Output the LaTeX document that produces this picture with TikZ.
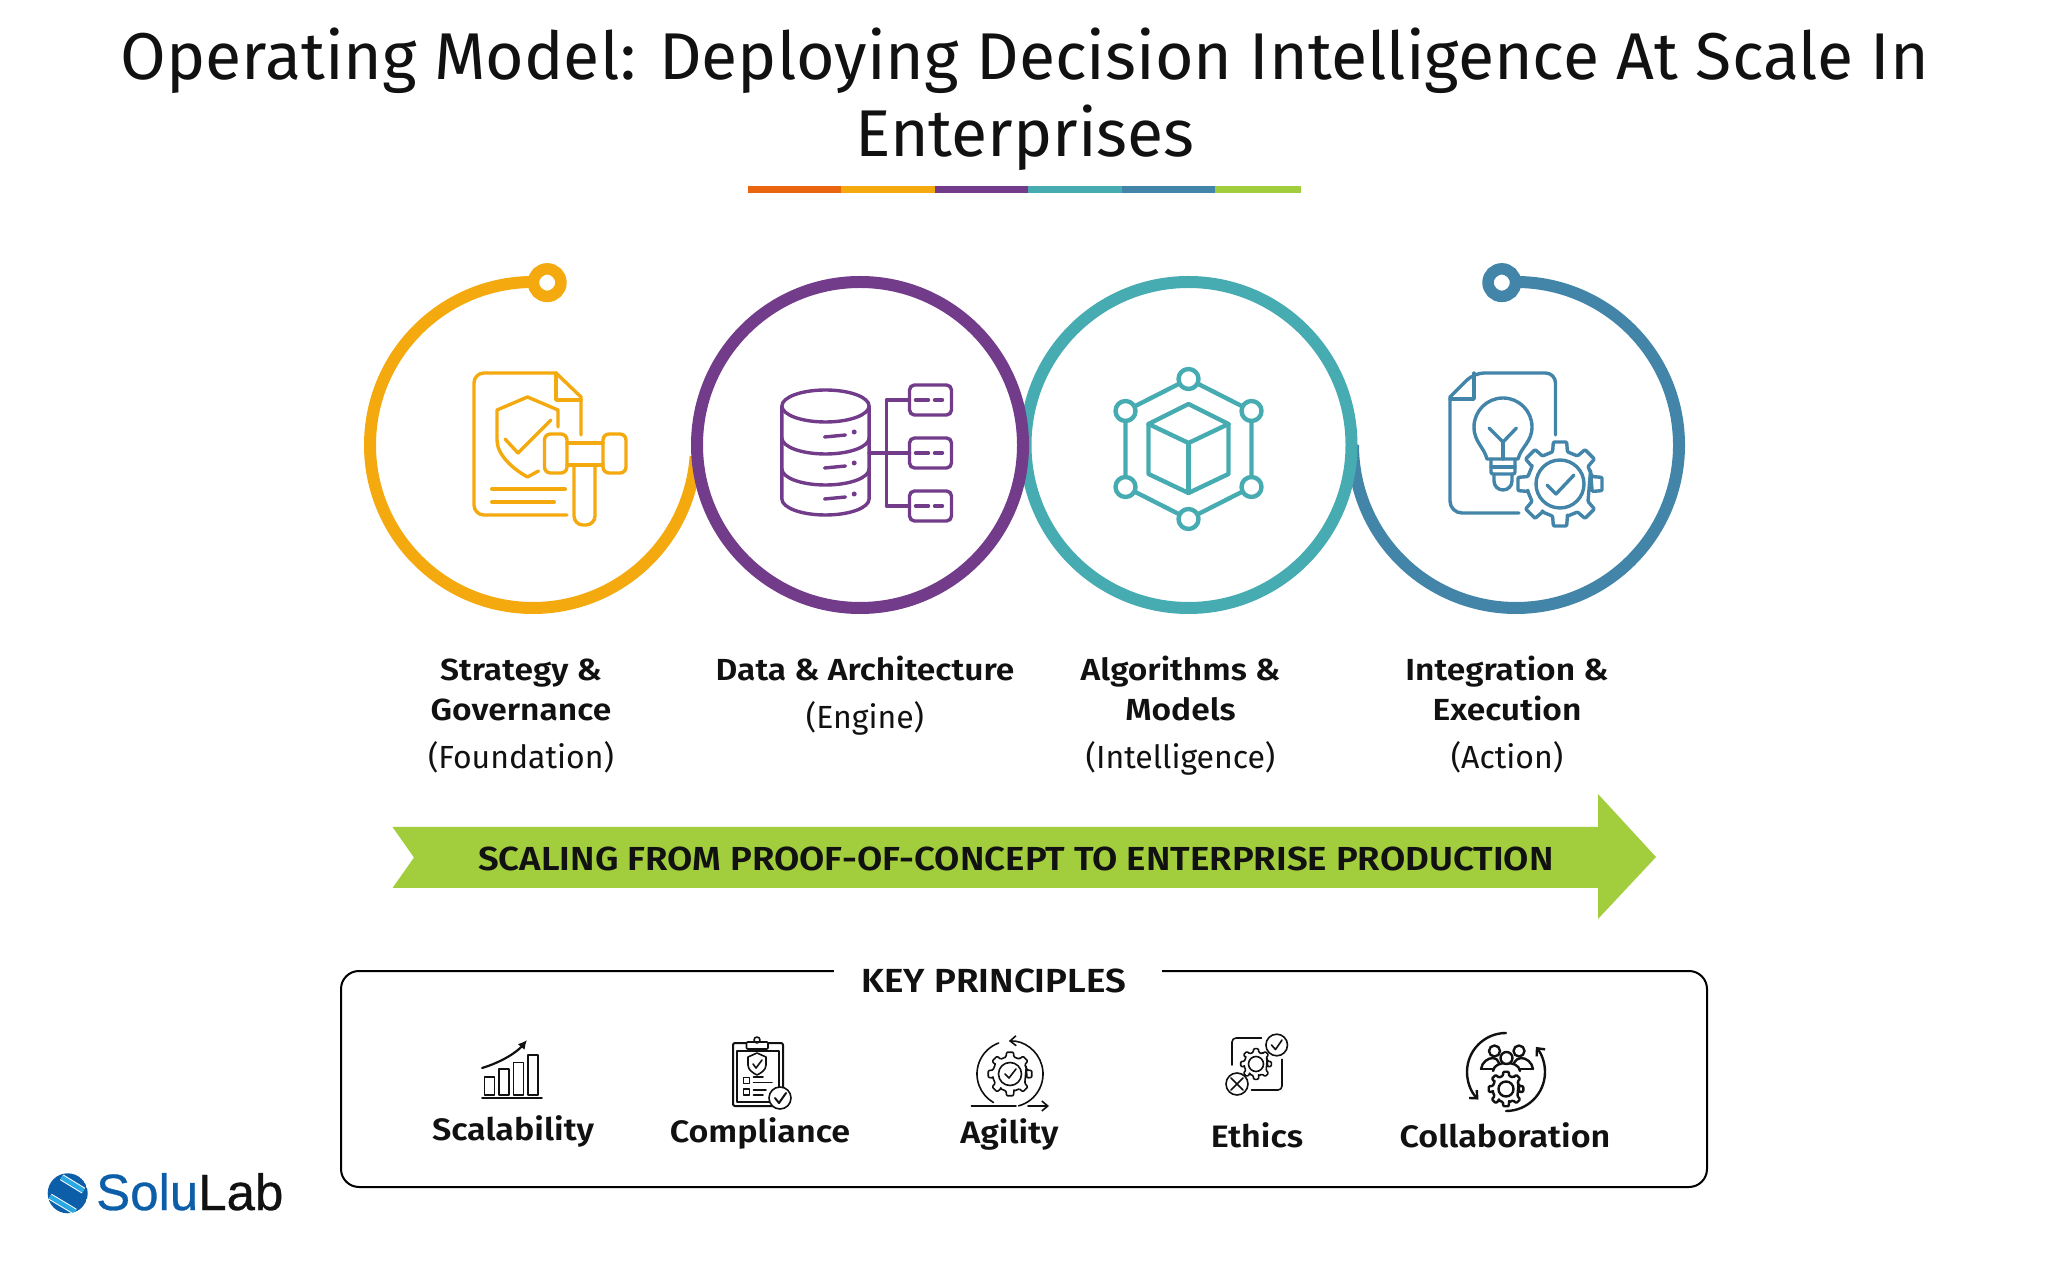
\documentclass[tikz,border=0pt]{standalone}
\usepackage{fontspec}
\setmainfont{Fira Sans}
\newfontfamily\headface[FakeStretch=1.1, BoldFont={Fira Sans SemiBold}]{Fira Sans}
\newfontfamily\logofont[FakeBold=0.6]{Liberation Sans}
\usetikzlibrary{arrows.meta, positioning}

\definecolor{tierred}{HTML}{E9650F}
\definecolor{tierorange}{HTML}{F4A90E}
\definecolor{tierpurple}{HTML}{723C8B}
\definecolor{tierteal}{HTML}{47ACB1}
\definecolor{tierblue}{HTML}{4285A9}
\definecolor{tiergreen}{HTML}{A2CD3C}
\definecolor{logoblue}{HTML}{0C5EA8}
\definecolor{logolight}{HTML}{29A9E1}
\definecolor{inktext}{HTML}{111111}

\newcommand{\headline}[1]{{\headface\bfseries\fontsize{30.5}{40}\selectfont #1}}

% gear outline: centre, outer radius, body radius
\newcommand{\drawgear}[3]{%
  \draw[fill=white, rounded corners=1pt] (#1) ++(22.5:#3)
    \foreach \a in {0,45,...,315} {
      -- ++(0,0) -- ([shift={(#1)}]\a-13:#3) -- ([shift={(#1)}]\a-9:#2) -- ([shift={(#1)}]\a+9:#2) -- ([shift={(#1)}]\a+13:#3)
    } -- cycle;
}

\begin{document}
\begin{tikzpicture}[
  x=1pt, y=1pt,
  ring/.style={circle, draw, line width=12pt, minimum size=326pt, inner sep=0pt, outer sep=0pt},
  tail/.style={line width=12pt},
  knob/.style={circle, draw, fill=white, line width=11.5pt, minimum size=27.5pt, inner sep=0pt, outer sep=0pt},
  tierlabel/.style={align=center, font=\fontsize{32}{40}\selectfont, text=inktext, inner sep=0pt},
  item/.style={anchor=base, font=\headface\bfseries\fontsize{31}{36}\selectfont, text=inktext, inner sep=0pt},
  iconline/.style={line width=3.4pt, line join=round, line cap=round},
  tinyline/.style={line width=1.6pt, line join=round, line cap=round, inktext},
  node distance=30pt
]
\useasboundingbox (0,0) rectangle (2048,1262);

% Title
\node[align=center, font=\fontsize{66.15}{77}\selectfont, text=inktext, inner sep=0pt, anchor=base] (title) at (1025,1105)
  {Operating Model: Deploying Decision Intelligence At Scale In\\Enterprises};
\foreach \col/\xa/\xb in {tierred/748/841, tierorange/841/935, tierpurple/935/1028, tierteal/1028/1122, tierblue/1122/1215, tiergreen/1215/1301}
  \fill[\col] (\xa,1069) rectangle (\xb,1076);

% Tier circles
\node[circle, minimum size=326pt, inner sep=0pt, outer sep=0pt] (strategy) at (533,817) {};
\node[circle, minimum size=326pt, inner sep=0pt, outer sep=0pt] (exec) at (1516,817) {};
\draw[tail, tierorange] (strategy.center) ++(85:163) arc[start angle=85, end angle=356, radius=163];
\draw[tail, tierblue] (exec.center) ++(95:163) arc[start angle=95, end angle=-180, radius=163];
\node[knob, draw=tierorange] (knobA) at ([shift={(85:163)}]strategy.center) {};
\node[knob, draw=tierblue] (knobB) at ([shift={(95:163)}]exec.center) {};
\node[ring, draw=tierteal] (algo) at (1188.5,817) {};
\node[ring, draw=tierpurple] (data) at (860,817) {};

% Icon - gavel
\begin{scope}[shift={(strategy.center)}, iconline, tierorange]
  \draw (48,10) -- (48,48) -- (23,72) [rounded corners=10pt] -- (-59,72) -- (-59,-70) -- (34,-70);
  \draw (23,72) -- (23,45) -- (48,45);
  \draw (25,18) -- (25,35) -- (-5.5,48) -- (-36,35) -- (-36,5) .. controls (-36,-10) and (-20,-24) .. (-5.5,-32) -- (5.5,-26);
  \draw (-28,6) -- (-15,-8) -- (18,25);
  \draw[line width=4pt] (-41,-44) -- (32,-44);
  \draw[line width=4pt] (-41,-57) -- (21,-57);
  \draw[rounded corners=6pt] (11.5,-28) rectangle (34,11);
  \draw[rounded corners=6pt] (70,-28) rectangle (93,11);
  \draw (34,2) -- (70,2);
  \draw (34,-20) -- (70,-20);
  \draw[rounded corners=9pt] (41,-20) -- (41,-80) -- (62,-80) -- (62,-20);
\end{scope}

% Icon - database
\begin{scope}[shift={(data.center)}, xshift=1.5pt, iconline, tierpurple]
  \draw (-36,39) ellipse[x radius=43.6, y radius=16];
  \draw (-79.6,39) -- (-79.6,-54) arc[start angle=180, end angle=360, x radius=43.6, y radius=16] -- (7.6,39);
  \foreach \y in {7,-24} {
    \draw (-79.6,\y) arc[start angle=180, end angle=360, x radius=43.6, y radius=16];
  }
  \foreach \y in {0,-31,-62} {
    \draw (-37,\y+8) -- (-16,\y+10);
    \fill (-7.3,\y+13) circle[radius=2.5];
  }
  \draw (7.6,-8) -- (48,-8);
  \draw (25,45) -- (25,-61);
  \foreach \y in {45,-8,-61} {
    \draw (25,\y) -- (48,\y);
    \draw[rounded corners=5pt] (48,\y-15) rectangle (90,\y+15);
    \draw (54,\y) -- (67,\y);
    \draw (73,\y) -- (81,\y);
  }
\end{scope}

% Icon - cube
\begin{scope}[shift={(algo.center)}, iconline, tierteal, line width=4.4pt]
  \draw (0,66) -- (63,34) -- (63,-42) -- (0,-74) -- (-63,-42) -- (-63,34) -- cycle;
  \foreach \px/\py in {0/66, 63/34, 63/-42, 0/-74, -63/-42, -63/34} {
    \draw[fill=white] (\px,\py) circle[radius=10];
  }
  \draw (0,41) -- (40,21) -- (40,-29) -- (0,-48) -- (-40,-29) -- (-40,21) -- cycle;
  \draw (-40,21) -- (0,2) -- (40,21);
  \draw (0,2) -- (0,-48);
\end{scope}

% Icon - document, bulb, gear
\begin{scope}[shift={(exec.center)}, iconline, tierblue]
  \draw (39.5,10) [rounded corners=10pt] -- (39.5,72) -- (-42,72) [sharp corners] -- (-66,48) [rounded corners=12pt] -- (-66,-68) -- (3,-68);
  \draw (-42,72) -- (-42,46) -- (-66,46);
  \draw (-29,-14) .. controls (-32,-2) and (-42,3) .. (-42,18) arc[start angle=180, end angle=0, radius=29] .. controls (16,3) and (5,-2) .. (2,-14) -- cycle;
  \draw[rounded corners=2pt] (-25,-14) -- (-25,-29) -- (-1,-29) -- (-1,-14);
  \draw (-25,-22) -- (-1,-22);
  \draw (-22,-29) -- (-22,-36) arc[start angle=180, end angle=360, radius=9] -- (-4,-29);
  \draw (-27,17) -- (-13,3) -- (0.5,17);
  \draw (-13,3) -- (-13,-14);
  \drawgear{44,-39}{42.5}{33}
  \draw (44,-39) circle[radius=24];
  \draw (31,-40) -- (40,-49) -- (58,-30);
\end{scope}

% Tier labels
\node[tierlabel, below=50.5pt of strategy, xshift=-12pt] (lblstrategy) {\headline{Strategy \&}\\\headline{Governance}\\[8pt](Foundation)};
\node[tierlabel, below=48pt of data, xshift=5pt] (lbldata) {\headline{Data \& Architecture}\\[8pt](Engine)};
\node[tierlabel, below=48pt of algo, xshift=-8pt] (lblalgo) {\headline{Algorithms \&}\\\headline{Models}\\[8pt](Intelligence)};
\node[tierlabel, below=48pt of exec, xshift=-9pt] (lblexec) {\headline{Integration \&}\\\headline{Execution}\\[8pt](Action)};

% Scaling arrow
\fill[tiergreen] (392.5,435) -- (1598,435) -- (1598,468) -- (1656,405) -- (1598,343) -- (1598,374) -- (392.5,374) -- (414,404.5) -- cycle;
\node[font=\headface\bfseries\fontsize{33.3}{36}\selectfont, text=inktext, inner sep=0pt, anchor=base] (scaling) at (1016,391) {SCALING FROM PROOF-OF-CONCEPT TO ENTERPRISE PRODUCTION};

% Key principles
\node[draw, rounded corners=18pt, line width=2pt, minimum width=1366pt, minimum height=216pt, inner sep=0pt] (keybox) at (1024,183) {};
\node[draw=none, fill=white, minimum width=328pt, minimum height=40pt, inner sep=0pt] (keygap) at (998,287) {};
\node[anchor=base, font=\headface\bfseries\fontsize{33.4}{36}\selectfont, text=inktext, inner sep=0pt] (keyhead) at (994,270) {KEY PRINCIPLES};

\node[item] (scal) at (513,122) {Scalability};
\node[item] (comp) at (760,120) {Compliance};
\node[item] (agil) at (1009.5,119) {Agility};
\node[item] (ethi) at (1257,115) {Ethics};
\node[item] (coll) at (1505,115) {Collaboration};

% Scalability icon
\begin{scope}[shift={(512,192)}, tinyline]
  \draw (-30,-28) -- (30,-28);
  \foreach \xa/\ya in {-27.5/-7, -13/1, 1.4/7.7, 16/15} {
    \draw (\xa,-25) rectangle (\xa+10,\ya);
  }
  \draw[line width=2.2pt, -{Latex[length=9pt, width=9pt]}] (-30,2) .. controls (-10,8) and (5,18) .. (15,30);
\end{scope}

% Compliance icon
\begin{scope}[shift={(758,189)}, tinyline]
  \draw[rounded corners=2pt, line width=2pt] (-25,30) rectangle (25,-33);
  \draw (-21,22) rectangle (21,-29);
  \draw[fill=white, rounded corners=1pt] (-11.5,24) rectangle (10,31);
  \draw (-1,33) circle[radius=3];
  \draw (-1,20) -- (8,16) -- (8,8) .. controls (8,3) and (3,0) .. (-1,-2) .. controls (-5,0) and (-10,3) .. (-10,8) -- (-10,16) -- cycle;
  \draw (-5,9) -- (-2,5) -- (4,13);
  \draw (-14.5,-10.3) rectangle (-8.5,-4.3);
  \draw (-14.5,-22) rectangle (-8.5,-16);
  \draw (-4.5,-4) -- (5,-4);
  \draw (-4.5,-9.5) -- (14,-9.5);
  \draw (-4.5,-17) -- (8,-17);
  \draw (-4.5,-22) -- (5,-22);
  \draw[fill=white] (22,-25) circle[radius=11];
  \draw[line width=2pt] (17,-25) -- (21,-30) -- (28,-20);
\end{scope}

% Agility icon
\begin{scope}[shift={(1010,188)}, tinyline]
  \draw[-{Straight Barb[length=6pt, width=10pt]}] (0,0) ++(-75:33) arc[start angle=-75, end angle=92, radius=33];
  \draw (0,0) ++(110:33) arc[start angle=110, end angle=240, radius=33];
  \draw (-38.6,-32) -- (6,-32);
  \draw[-{Straight Barb[length=6pt, width=10pt]}] (18,-32) -- (39,-32);
  \drawgear{0,0}{22}{17.5}
  \draw (0,0) circle[radius=11.5];
  \draw (-5,0) -- (-1,-4) -- (6,5);
\end{scope}

% Ethics icon
\begin{scope}[shift={(1256,198)}, tinyline]
  \draw[rounded corners=4pt] (5.5,26) -- (-24,26) -- (-24,-1);
  \draw[rounded corners=4pt] (-4.6,-26) -- (26,-26) -- (26,4.7);
  \drawgear{0,0}{15.5}{12}
  \draw (0,0) circle[radius=7.5];
  \draw[fill=white] (20.7,19) circle[radius=10.8];
  \draw (15.5,19) -- (19.5,14.5) -- (26,24);
  \draw[fill=white] (-19,-20) circle[radius=11];
  \draw (-25,-26) -- (-13,-14);
  \draw (-25,-14) -- (-13,-26);
\end{scope}

% Collaboration icon
\begin{scope}[shift={(1506,190)}, tinyline, line width=2.4pt]
  \draw[-{Straight Barb[length=6pt, width=11pt]}] (0,39) arc[start angle=90, end angle=225, radius=39];
  \draw[-{Straight Barb[length=6pt, width=11pt]}] (0,-39) arc[start angle=270, end angle=400, radius=39];
  \draw (-11.5,21) circle[radius=5.5];
  \draw (13,21) circle[radius=5.5];
  \draw (-25,3) .. controls (-24,10) and (-18,14) .. (-13,14) .. controls (-10,14) and (-8,12) .. (-7,9);
  \draw (27,3) .. controls (26,10) and (20,14) .. (15,14) .. controls (12,14) and (10,12) .. (8,9);
  \draw[fill=white] (-13,1) .. controls (-12,7) and (-6,9) .. (0.5,9) .. controls (7,9) and (13,7) .. (14,1);
  \draw[fill=white] (0.5,14) circle[radius=6];
  \draw (-25,3) -- (-13,3);
  \draw (14,3) -- (27,3);
  \drawgear{0,-17}{17.5}{13.5}
  \draw (0,-17) circle[radius=7.5];
\end{scope}

% Logo
\begin{scope}
  \clip (67.7,68.7) circle[radius=20];
  \fill[logoblue] (67.7,68.7) circle[radius=20];
  \draw[white, line width=6.5pt] (61.7,84.7) -- (83.4,71.4);
  \draw[logolight, line width=4.5pt] (61.7,84.7) -- (83.4,71.4);
  \draw[white, line width=6.5pt] (50,65.4) -- (75,50.4);
  \draw[logolight, line width=4.5pt] (50,65.4) -- (75,50.4);
\end{scope}
\node[anchor=base west, inner sep=0pt, font=\logofont\fontsize{51}{52}\selectfont, text=inktext] (logotext) at (96,52) {\textcolor{logoblue}{Solu}Lab};

\end{tikzpicture}
\end{document}
